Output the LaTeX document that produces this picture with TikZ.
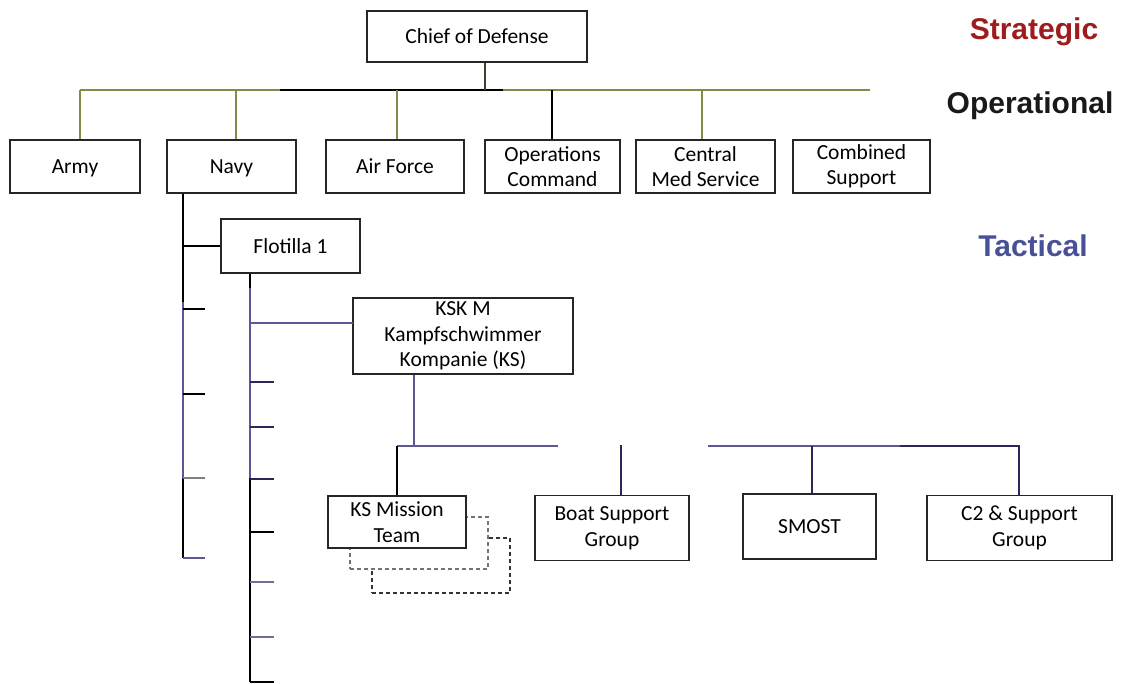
\documentclass[tikz,border=0pt]{standalone}
\usepackage{fontspec}
\setmainfont{Carlito}
\newfontfamily\labelfont{Liberation Sans}
\usetikzlibrary{calc}
\definecolor{olivel}{RGB}{128,140,72}
\definecolor{darkolive}{RGB}{60,64,40}
\definecolor{slatel}{RGB}{92,88,150}
\definecolor{navyd}{RGB}{40,40,90}
\definecolor{grayblue}{RGB}{112,110,150}
\definecolor{stratred}{RGB}{158,28,28}
\definecolor{tactblue}{RGB}{72,80,150}
\begin{document}
\begin{tikzpicture}[x=1pt,y=-1pt,
  orgbox/.style={draw=black!85,line width=1.3pt,fill=white,inner sep=0pt,align=center,
    font=\fontsize{21.5}{25.5}\selectfont},
  oneline/.style={text height=14.5pt,text depth=0pt},
  ghostbox/.style={draw=black!80,line width=1.3pt,fill=white,dashed,dash pattern=on 4pt off 3pt},
  conn/.style={line width=2pt},
  lvl/.style={font=\labelfont\bfseries\fontsize{30}{34}\selectfont,inner sep=0pt}]
\useasboundingbox (0,0) rectangle (1121,683);

% level labels
\node[lvl,text=stratred] (strat) at (1034,32) {Strategic};
\node[lvl,text=black!90] (oper) at (1030,106) {Operational};
\node[lvl,text=tactblue] (tact) at (1033,246) {Tactical};

% top level
\node[orgbox,oneline,minimum width=220pt,minimum height=51pt] (chief) at (477,36.5) {Chief of Defense};
\node[orgbox,oneline,minimum width=130pt,minimum height=53pt] (army) at (75,166.5) {Army};
\node[orgbox,oneline,minimum width=129pt,minimum height=53pt] (navy) at (231.5,166.5) {Navy};
\node[orgbox,oneline,minimum width=138pt,minimum height=53pt] (airf) at (395,166.5) {Air Force};
\node[orgbox,minimum width=135pt,minimum height=53pt] (ops) at (552.5,166.5) {Operations\\Command};
\node[orgbox,minimum width=139pt,minimum height=53pt] (med) at (705.5,166.5) {Central\\Med Service};
\node[orgbox,minimum width=137pt,minimum height=53pt] (comb) at (861.5,166.5) {Combined\\Support};

% bar
\coordinate (barL) at (80,90);
\coordinate (barM1) at (280,90);
\coordinate (barM2) at (503,90);
\coordinate (barR) at (870,90);
\draw[conn,olivel] (barL) -- (barM1);
\draw[conn,black] (barM1) -- (barM2);
\draw[conn,olivel] (barM2) -- (barR);
\coordinate (cj) at (485,90);
\draw[conn,darkolive] (cj |- chief.south) -- (cj);
\coordinate (ja) at (80,90);
\coordinate (jn) at (236,90);
\coordinate (jf) at (397,90);
\coordinate (jo) at (552,90);
\coordinate (jm) at (702,90);
\draw[conn,olivel] (ja) -- (ja |- army.north);
\draw[conn,olivel] (jn) -- (jn |- navy.north);
\draw[conn,olivel] (jf) -- (jf |- airf.north);
\draw[conn,black] (jo) -- (jo |- ops.north);
\draw[conn,olivel] (jm) -- (jm |- med.north);

% tactical boxes
\node[orgbox,oneline,minimum width=139pt,minimum height=54pt] (flot) at (290.5,246) {Flotilla 1};
\node[orgbox,minimum width=220pt,minimum height=76pt] (ksk) at (463,336) {KSK M\\Kampfschwimmer\\Kompanie (KS)};
\node[ghostbox,minimum width=138pt,minimum height=55pt] (ksm3) at (441,565.5) {};
\node[ghostbox,draw=black!55,minimum width=138pt,minimum height=52pt] (ksm2) at (419,543) {};
\node[orgbox,minimum width=138pt,minimum height=52pt] (ksmt) at (397,522) {KS Mission\\Team};
\node[orgbox,minimum width=154pt,minimum height=65pt] (boat) at (612,528) {Boat Support\\Group};
\node[orgbox,oneline,minimum width=133pt,minimum height=65pt] (smost) at (809.5,526.5) {SMOST};
\node[orgbox,minimum width=185pt,minimum height=65pt] (c2) at (1019.5,528) {C2 \& Support\\Group};

% Navy line
\coordinate (nv) at (183,193);
\coordinate (nvA) at (183,302);
\coordinate (nvB) at (183,478);
\coordinate (nvC) at (183,558);
\draw[conn,black] (nv |- navy.south) -- (nvA);
\draw[conn,slatel] (nvA) -- (nvB);
\draw[conn,black] (nvB) -- (nvC);
\draw[conn,black] (flot.west) -- (flot.west -| nv);
\coordinate (nt1) at (205,309);
\coordinate (nt2) at (205,394);
\coordinate (nt3) at (205,478);
\coordinate (nt4) at (205,558);
\draw[conn,black] (nt1) -- (nt1 -| nv);
\draw[conn,black] (nt2) -- (nt2 -| nv);
\draw[conn,gray] (nt3) -- (nt3 -| nv);
\draw[conn,slatel] (nt4) -- (nt4 -| nv);

% Flotilla line
\coordinate (fl) at (250,273);
\coordinate (flA) at (250,288);
\coordinate (flB) at (250,478);
\coordinate (flC) at (250,682);
\draw[conn,black] (fl |- flot.south) -- (flA);
\draw[conn,slatel] (flA) -- (flB);
\draw[conn,black] (flB) -- (flC);
\coordinate (kt) at (353,323);
\draw[conn,slatel] (kt) -- (kt -| fl);
\coordinate (ft1) at (274,382);
\coordinate (ft2) at (274,427);
\coordinate (ft3) at (274,479);
\coordinate (ft4) at (274,532);
\coordinate (ft5) at (274,582);
\coordinate (ft6) at (274,637);
\coordinate (ft7) at (274,682);
\draw[conn,navyd] (ft1) -- (ft1 -| fl);
\draw[conn,navyd] (ft2) -- (ft2 -| fl);
\draw[conn,navyd] (ft3) -- (ft3 -| fl);
\draw[conn,black] (ft4) -- (ft4 -| fl);
\draw[conn,grayblue] (ft5) -- (ft5 -| fl);
\draw[conn,grayblue] (ft6) -- (ft6 -| fl);
\draw[conn,black] (ft7) -- (ft7 -| fl);

% KSK children
\coordinate (kv) at (414,446);
\coordinate (hl) at (397,446);
\coordinate (hr1) at (558,446);
\coordinate (hr2) at (708,446);
\coordinate (hr3) at (900,446);
\coordinate (hr4) at (1020,446);
\draw[conn,slatel] (kv |- ksk.south) -- (kv);
\draw[conn,slatel] (hl) -- (hr1);
\draw[conn,black] (ksmt.north) -- (ksmt.north |- hl);
\draw[conn,slatel] (hr2) -- (hr3);
\draw[conn,navyd] (hr3) -- (hr4);
\coordinate (bv) at (621,445);
\coordinate (sv) at (812,446);
\coordinate (cv) at (1019,446);
\draw[conn,navyd] (bv) -- (bv |- boat.north);
\draw[conn,navyd] (sv) -- (sv |- smost.north);
\draw[conn,navyd] (cv) -- (cv |- c2.north);
\end{tikzpicture}
\end{document}
